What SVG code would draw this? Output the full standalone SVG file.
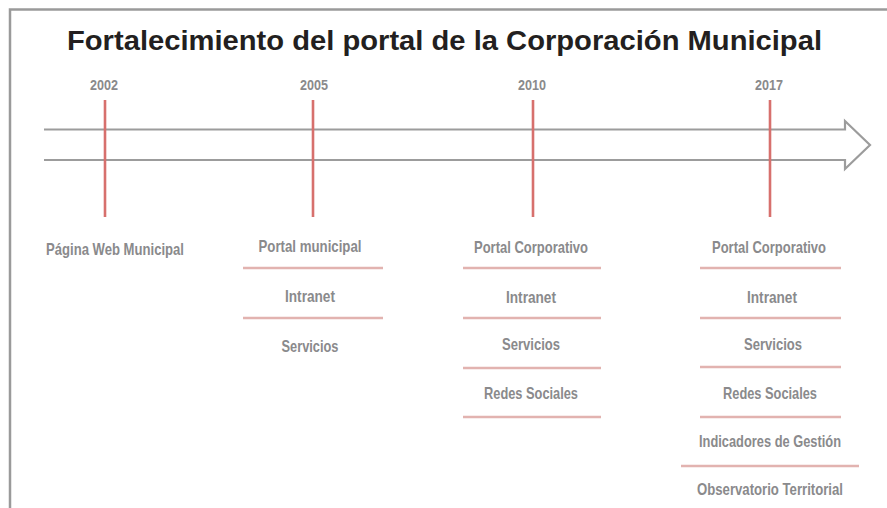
<svg xmlns="http://www.w3.org/2000/svg" width="887" height="508" viewBox="0 0 887 508">
<style>
.frame{fill:none;stroke:#9a9a9a;stroke-width:2.5}
.axis{fill:none;stroke:#9c9c9c;stroke-width:2.2;stroke-linejoin:miter}
.tick{stroke:#d7706d;stroke-width:2.6}
.sep{stroke:#e2b3b0;stroke-width:2.6}
.title{font-family:"Liberation Sans",Arial,sans-serif;font-weight:bold;font-size:27.5px;fill:#231f20}
.year{font-family:"Liberation Sans Narrow","Liberation Sans",sans-serif;font-weight:bold;font-size:14px;fill:#8a8a8c;text-anchor:middle}
.lbl{font-family:"Liberation Sans Narrow","Liberation Sans",sans-serif;font-weight:bold;font-size:16.5px;fill:#8a8a8c;text-anchor:middle}
</style>
<rect width="887" height="508" fill="#ffffff"/>
<path class="frame" d="M10,520 L10,9.5 L900,9.5"/>
<text class="title" x="67" y="50" textLength="755" lengthAdjust="spacingAndGlyphs">Fortalecimiento del portal de la Corporación Municipal</text>
<g id="connectors">
<path id="timeline-arrow" class="axis" d="M44,129.5 L845,129.5 L845,121 L870,145 L845,169 L845,160 L44,160"/>
<line class="tick" x1="105" y1="100" x2="105" y2="217"/>
<line class="tick" x1="313" y1="100" x2="313" y2="217"/>
<line class="tick" x1="533" y1="100" x2="533" y2="217"/>
<line class="tick" x1="770" y1="100" x2="770" y2="217"/>
</g>
<g id="node-2002">
<text class="year" x="104" y="90" textLength="28" lengthAdjust="spacingAndGlyphs">2002</text>
<text class="lbl" x="115" y="255" textLength="138" lengthAdjust="spacingAndGlyphs">Página Web Municipal</text>
</g>
<g id="node-2005">
<text class="year" x="314" y="90" textLength="28" lengthAdjust="spacingAndGlyphs">2005</text>
<text class="lbl" x="310" y="252" textLength="103" lengthAdjust="spacingAndGlyphs">Portal municipal</text>
<line class="sep" x1="243" y1="268" x2="383" y2="268"/>
<text class="lbl" x="310" y="302" textLength="50" lengthAdjust="spacingAndGlyphs">Intranet</text>
<line class="sep" x1="243" y1="318" x2="383" y2="318"/>
<text class="lbl" x="310" y="352" textLength="57" lengthAdjust="spacingAndGlyphs">Servicios</text>
</g>
<g id="node-2010">
<text class="year" x="532" y="90" textLength="28" lengthAdjust="spacingAndGlyphs">2010</text>
<text class="lbl" x="531" y="253" textLength="114" lengthAdjust="spacingAndGlyphs">Portal Corporativo</text>
<line class="sep" x1="463" y1="268" x2="601" y2="268"/>
<text class="lbl" x="531" y="303" textLength="50" lengthAdjust="spacingAndGlyphs">Intranet</text>
<line class="sep" x1="463" y1="318" x2="601" y2="318"/>
<text class="lbl" x="531" y="350" textLength="58" lengthAdjust="spacingAndGlyphs">Servicios</text>
<line class="sep" x1="463" y1="368" x2="601" y2="368"/>
<text class="lbl" x="531" y="399" textLength="94" lengthAdjust="spacingAndGlyphs">Redes Sociales</text>
<line class="sep" x1="463" y1="417" x2="601" y2="417"/>
</g>
<g id="node-2017">
<text class="year" x="769" y="90" textLength="28" lengthAdjust="spacingAndGlyphs">2017</text>
<text class="lbl" x="769" y="253" textLength="114" lengthAdjust="spacingAndGlyphs">Portal Corporativo</text>
<line class="sep" x1="700" y1="268" x2="841" y2="268"/>
<text class="lbl" x="772" y="303" textLength="50" lengthAdjust="spacingAndGlyphs">Intranet</text>
<line class="sep" x1="700" y1="318" x2="841" y2="318"/>
<text class="lbl" x="773" y="350" textLength="58" lengthAdjust="spacingAndGlyphs">Servicios</text>
<line class="sep" x1="700" y1="367" x2="841" y2="367"/>
<text class="lbl" x="770" y="399" textLength="94" lengthAdjust="spacingAndGlyphs">Redes Sociales</text>
<line class="sep" x1="700" y1="417" x2="841" y2="417"/>
<text class="lbl" x="770" y="447" textLength="142" lengthAdjust="spacingAndGlyphs">Indicadores de Gestión</text>
<line class="sep" x1="681" y1="466" x2="859" y2="466"/>
<text class="lbl" x="770" y="495" textLength="146" lengthAdjust="spacingAndGlyphs">Observatorio Territorial</text>
</g>
</svg>
